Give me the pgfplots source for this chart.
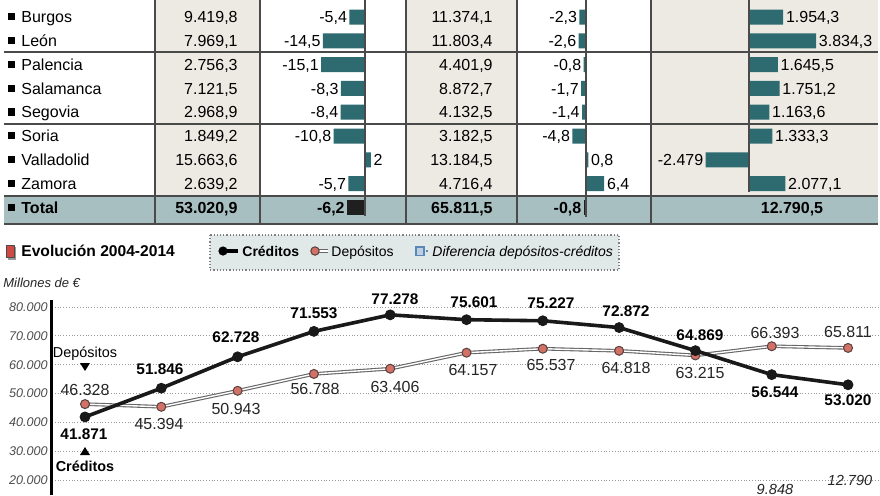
\documentclass[border=0pt]{standalone}
\usepackage{pgfplots}
\pgfplotsset{compat=1.18}
\usepackage{fontspec}
\setmainfont{Liberation Sans}
\definecolor{barc}{HTML}{2D6B70}
\definecolor{beige}{HTML}{EDEAE3}
\definecolor{totc}{HTML}{A8BFC2}
\definecolor{legbg}{HTML}{E1E8E8}
\definecolor{depc}{HTML}{D27165}
\definecolor{depd}{HTML}{5A4040}
\definecolor{sqc}{HTML}{D04A45}
\definecolor{linec}{HTML}{4A4A4A}
\definecolor{difc}{HTML}{5B86B8}
\newcommand\tfont{\fontsize{8}{9.6}\selectfont}
\newcommand\cfont{\fontsize{7.7}{9}\selectfont\bfseries}
\newcommand\dfont{\fontsize{8}{9.6}\selectfont}
\newcommand\lfont{\fontsize{7}{8.4}\selectfont}
\newcommand{\trow}[4]{%
  \fill ({7.5},{13.2+23.8*#1}) rectangle ({14.5},{20.4+23.8*#1});
  \node[anchor=base west,inner sep=0pt,font=\tfont] at (21,{22.7+23.8*#1}) {#2};
  \node[anchor=base east,inner sep=0pt,font=\tfont] at (238,{22.7+23.8*#1}) {#3};
  \node[anchor=base east,inner sep=0pt,font=\tfont] at (493,{22.7+23.8*#1}) {#4};}
\pgfplotsset{tbar/.style={xbar, bar width=7.5pt, bar shift=0pt, fill=barc, draw=none}}
\tikzset{nl/.style={anchor=base east, inner sep=0pt, font=\tfont, yshift=-2.86pt, xshift=-1pt},
  pl/.style={anchor=base west, inner sep=0pt, font=\tfont, yshift=-2.86pt, xshift=1.2pt}}
\begin{document}
\begin{tikzpicture}
\useasboundingbox (0,0) rectangle (440pt,-247.5pt);
\begin{scope}[x=0.5pt,y=-0.5pt]
\fill[white] (0,0) rectangle (880,495);
\fill[beige] (155,0) rectangle (260,196);
\fill[beige] (406,0) rectangle (517,196);
\fill[beige] (651,0) rectangle (878,196);
\fill[totc] (4,196) rectangle (878,224);
\foreach \yy in {52,124,196,224} \draw[linec,line width=0.75pt] (4,\yy) -- (878,\yy);
\foreach \xx in {155,260,406,517,651} \draw[linec,line width=0.6pt] (\xx,0) -- (\xx,224);
\trow{0}{Burgos}{9.419,8}{11.374,1}
\trow{1}{León}{7.969,1}{11.803,4}
\trow{2}{Palencia}{2.756,3}{4.401,9}
\trow{3}{Salamanca}{7.121,5}{8.872,7}
\trow{4}{Segovia}{2.968,9}{4.132,5}
\trow{5}{Soria}{1.849,2}{3.182,5}
\trow{6}{Valladolid}{15.663,6}{13.184,5}
\trow{7}{Zamora}{2.639,2}{4.716,4}
\trow{8}{\bfseries Total}{\bfseries 53.020,9}{\bfseries 65.811,5}
\node[anchor=base,inner sep=0pt,font=\tfont\bfseries] at (792,{22.7+23.8*8}) {12.790,5};
\end{scope}
% ---- column 2: variation credits
\begin{axis}[at={(130pt,0pt)}, anchor=north west, scale only axis, width=73pt, height=112pt,
  xmin=-36.21, xmax=14.14, ymin=-0.714, ymax=8.697, y dir=reverse, hide axis, clip=false]
\addplot[tbar] coordinates {(-5.4,0) (-14.5,1) (-15.1,2) (-8.3,3) (-8.4,4) (-10.8,5) (2,6) (-5.7,7)};
\addplot[tbar, fill=black!88] coordinates {(-6.2,8)};
\draw[linec, line width=0.6pt] (axis cs:0,-0.714) -- (axis cs:0,8.35);
\node[nl] at (axis cs:-5.4,0) {-5,4};
\node[nl] at (axis cs:-14.5,1) {-14,5};
\node[nl] at (axis cs:-15.1,2) {-15,1};
\node[nl] at (axis cs:-8.3,3) {-8,3};
\node[nl] at (axis cs:-8.4,4) {-8,4};
\node[nl] at (axis cs:-10.8,5) {-10,8};
\node[pl] at (axis cs:2,6) {2};
\node[nl] at (axis cs:-5.7,7) {-5,7};
\node[nl, font=\tfont\bfseries] at (axis cs:-6.2,8) {-6,2};
\end{axis}
% ---- column 4: variation deposits
\begin{axis}[at={(258.5pt,0pt)}, anchor=north west, scale only axis, width=67pt, height=112pt,
  xmin=-24.21, xmax=22.81, ymin=-0.714, ymax=8.697, y dir=reverse, hide axis, clip=false]
\addplot[tbar] coordinates {(-2.3,0) (-2.6,1) (-0.8,2) (-1.7,3) (-1.4,4) (-4.8,5) (0.8,6) (6.4,7)};
\addplot[tbar, fill=black!88] coordinates {(-0.8,8)};
\draw[linec, line width=0.6pt] (axis cs:0,-0.714) -- (axis cs:0,8.4);
\node[nl] at (axis cs:-2.3,0) {-2,3};
\node[nl] at (axis cs:-2.6,1) {-2,6};
\node[nl] at (axis cs:-0.8,2) {-0,8};
\node[nl] at (axis cs:-1.7,3) {-1,7};
\node[nl] at (axis cs:-1.4,4) {-1,4};
\node[nl] at (axis cs:-4.8,5) {-4,8};
\node[pl] at (axis cs:0.8,6) {0,8};
\node[pl] at (axis cs:6.4,7) {6,4};
\node[nl, font=\tfont\bfseries] at (axis cs:-0.8,8) {-0,8};
\end{axis}
% ---- column 5: difference deposits - credits
\begin{axis}[at={(325.5pt,0pt)}, anchor=north west, scale only axis, width=113.5pt, height=112pt,
  xmin=-5600, xmax=7371, ymin=-0.714, ymax=8.697, y dir=reverse, hide axis, clip=false]
\addplot[tbar] coordinates {(1954.3,0) (3834.3,1) (1645.5,2) (1751.2,3) (1163.6,4) (1333.3,5) (-2479,6) (2077.1,7)};
\draw[linec, line width=0.6pt] (axis cs:0,-0.714) -- (axis cs:0,7.35);
\node[pl] at (axis cs:1954.3,0) {1.954,3};
\node[pl] at (axis cs:3834.3,1) {3.834,3};
\node[pl] at (axis cs:1645.5,2) {1.645,5};
\node[pl] at (axis cs:1751.2,3) {1.751,2};
\node[pl] at (axis cs:1163.6,4) {1.163,6};
\node[pl] at (axis cs:1333.3,5) {1.333,3};
\node[nl] at (axis cs:-2479,6) {-2.479};
\node[pl] at (axis cs:2077.1,7) {2.077,1};
\end{axis}
% ---- line chart
\begin{axis}[at={(26pt,-247.5pt)}, anchor=south west, scale only axis,
  width=414pt, height=97.5pt,
  xmin=2003.5675, xmax=2014.419, ymin=14797, ymax=82428,
  axis x line=none, axis y line*=left,
  y axis line style={line width=1.5pt, black},
  xtick=\empty, scaled y ticks=false,
  ytick={20000,30000,40000,50000,60000,70000,80000},
  yticklabels={20.000,30.000,40.000,50.000,60.000,70.000,80.000},
  yticklabel style={font=\fontsize{6.3}{7}\selectfont\itshape, text=black!70, inner sep=0pt, xshift=-2pt},
  major tick length=0pt,
  ymajorgrids, grid style={densely dotted, black!40, line width=0.5pt},
  clip mode=individual]
\addplot[draw=black!60, line width=0.55pt, double=white, double distance=0.7pt] coordinates {
 (2004,46328) (2005,45394) (2006,50943) (2007,56788) (2008,58600) (2009,64157)
 (2010,65537) (2011,64818) (2012,63215) (2013,66393) (2014,65811)};
\addplot[only marks, mark=*, mark size=2.25pt, mark options={fill=depc, draw=depd, line width=0.5pt}] coordinates {
 (2004,46328) (2005,45394) (2006,50943) (2007,56788) (2008,58600) (2009,64157)
 (2010,65537) (2011,64818) (2012,63215) (2013,66393) (2014,65811)};
\addplot[black!90, line width=1.8pt, mark=*, mark size=2.5pt, mark options={fill=black!90, draw=black!90, line width=0.4pt}] coordinates {
 (2004,41871) (2005,51846) (2006,62728) (2007,71553) (2008,77278) (2009,75601)
 (2010,75227) (2011,72872) (2012,64869) (2013,56544) (2014,53020)};
\addplot[difc, densely dotted, line width=1pt, mark=square*, mark options={solid, fill=difc!40, draw=difc}] coordinates {(2013,9848) (2014,12790)};
\end{axis}
\begin{scope}[x=0.5pt,y=-0.5pt]
% title and legend
\fill[black!40] (7.5,247) rectangle (16,259.5);
\filldraw[fill=sqc, draw=black!70, line width=0.4pt] (6,245) rectangle (14.5,257);
\node[anchor=base west, inner sep=0pt, font=\fontsize{7.8}{9}\selectfont\bfseries] at (21,256) {Evolución 2004-2014};
\draw[black!50, densely dotted, line width=0.6pt, fill=legbg] (210,235) rectangle (619,270);
\draw[black, line width=1.6pt] (223,251) -- (238,251);
\fill[black] (223,251) circle (2.3pt);
\node[anchor=base west, inner sep=0pt, font=\lfont\bfseries] at (242,256) {Créditos};
\draw[black!60, line width=0.55pt, double=white, double distance=0.7pt] (316,251) -- (328,251);
\filldraw[fill=depc, draw=depd, line width=0.5pt] (315,251) circle (2.1pt);
\node[anchor=base west, inner sep=0pt, font=\lfont] at (331,256) {Depósitos};
\filldraw[fill=difc!40, draw=difc, line width=0.8pt] (416,247) rectangle (424,255.5);
\draw[difc, dotted, line width=1pt] (426,251) -- (430,251);
\node[anchor=base west, inner sep=0pt, font=\lfont\itshape] at (432,256) {Diferencia depósitos-créditos};
\node[anchor=base west, inner sep=0pt, font=\fontsize{6.5}{8}\selectfont\itshape, text=black!85] at (3,287) {Millones de €};
% annotations
\node[anchor=base, inner sep=0pt, font=\fontsize{7.2}{8}\selectfont] at (85,357) {Depósitos};
\fill[black] (80,363) -- (90,363) -- (85,371) -- cycle;
\fill[black] (80,455) -- (90,455) -- (85,447) -- cycle;
\node[anchor=base, inner sep=0pt, font=\fontsize{7.2}{8}\selectfont\bfseries] at (85,471) {Créditos};
% credit labels
\foreach \xx/\yy/\lab in {84/434/41.871, 160/369/51.846, 236/337/62.728, 314/313/71.553, 395/299/77.278,
  474/302/75.601, 551/303/75.227, 626/311/72.872, 700/335/64.869, 775/392/56.544, 848/400/53.020}
  \node[inner sep=0pt, font=\cfont] at (\xx,\yy) {\lab};
% deposit labels
\foreach \xx/\yy/\lab in {85/390/46.328, 159/424/45.394, 236/409/50.943, 315/389/56.788, 395/387/63.406,
  473/370/64.157, 551/365/65.537, 626/368/64.818, 700/373/63.215, 775/333/66.393, 848/332/65.811}
  \node[inner sep=0pt, font=\dfont, text=black!85] at (\xx,\yy) {\lab};
% difference labels
\node[inner sep=0pt, font=\fontsize{7.3}{8}\selectfont\itshape, text=black!85] at (775,489) {9.848};
\node[inner sep=0pt, font=\fontsize{7.3}{8}\selectfont\itshape, text=black!85] at (850,480) {12.790};
\end{scope}
\end{tikzpicture}
\end{document}
